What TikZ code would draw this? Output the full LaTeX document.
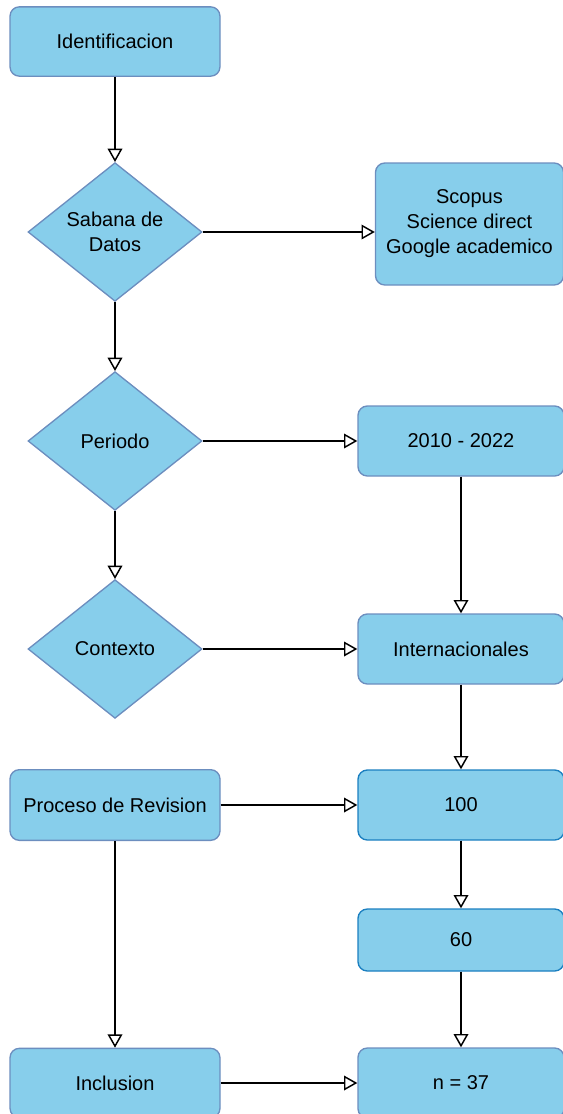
\documentclass[tikz,border=0pt]{standalone}
\usepackage{fontspec}
\setmainfont{Liberation Sans}
\usetikzlibrary{arrows.meta,shapes.geometric}
\definecolor{celeste}{RGB}{135,206,235}
\definecolor{borde}{RGB}{108,142,191}
\definecolor{bordeb}{RGB}{27,127,192}
\begin{document}
\begin{tikzpicture}[x=0.75pt,y=-0.75pt,
      every node/.style={font=\fontsize{15}{18.75}\selectfont,align=center,inner sep=2pt},
      caja/.style={draw=borde,fill=celeste,line width=1pt,rounded corners=7pt,
        minimum width=157.5pt,minimum height=52pt},
      cajad/.style={caja,minimum width=154.5pt,minimum height=52.5pt},
      rombo/.style={draw=borde,fill=celeste,line width=1pt,diamond,inner sep=0pt,
        aspect=1.25,minimum width=130.5pt,minimum height=104pt},
      flecha/.style={line width=1.1pt,->},
      >={Triangle[open,length=10pt,width=11pt]}]
  \useasboundingbox(0,0)rectangle(563,1114);
  \node[caja](ident)at(115,41.5){Identificacion};
  \node[rombo](sabana)at(115,232){Sabana de\\Datos};
  \node[caja,minimum width=141pt,minimum height=91.5pt](fuentes)at(469.5,224)
    {Scopus\\Science direct\\Google academico};
  \node[rombo](periodo)at(115,441){Periodo};
  \node[cajad](anios)at(461,441){2010 - 2022};
  \node[rombo](contexto)at(115,649){Contexto};
  \node[cajad](internac)at(461,649){Internacionales};
  \node[caja,minimum height=53pt](proceso)at(115,805){Proceso de Revision};
  \node[cajad,draw=bordeb](cien)at(461,805){100};
  \node[cajad,draw=bordeb,minimum height=46.5pt](sesenta)at(461,940){60};
  \node[caja](inclusion)at(115,1083){Inclusion};
  \node[cajad](final)at(461,1083){n = 37};
  % columna izquierda
  \draw[flecha](ident)--(sabana);
  \draw[flecha](sabana)--(periodo);
  \draw[flecha](periodo)--(contexto);
  \draw[flecha](proceso)--(inclusion);
  % hacia la derecha
  \draw[flecha](sabana.east)--(sabana.east-|fuentes.west);
  \draw[flecha](periodo.east)--(anios.west);
  \draw[flecha](contexto.east)--(internac.west);
  \draw[flecha](proceso.east)--(cien.west);
  \draw[flecha](inclusion.east)--(final.west);
  % columna derecha
  \draw[flecha](anios)--(internac);
  \draw[flecha](internac)--(cien);
  \draw[flecha](cien)--(sesenta);
  \draw[flecha](sesenta)--(final);
\end{tikzpicture}
\end{document}
